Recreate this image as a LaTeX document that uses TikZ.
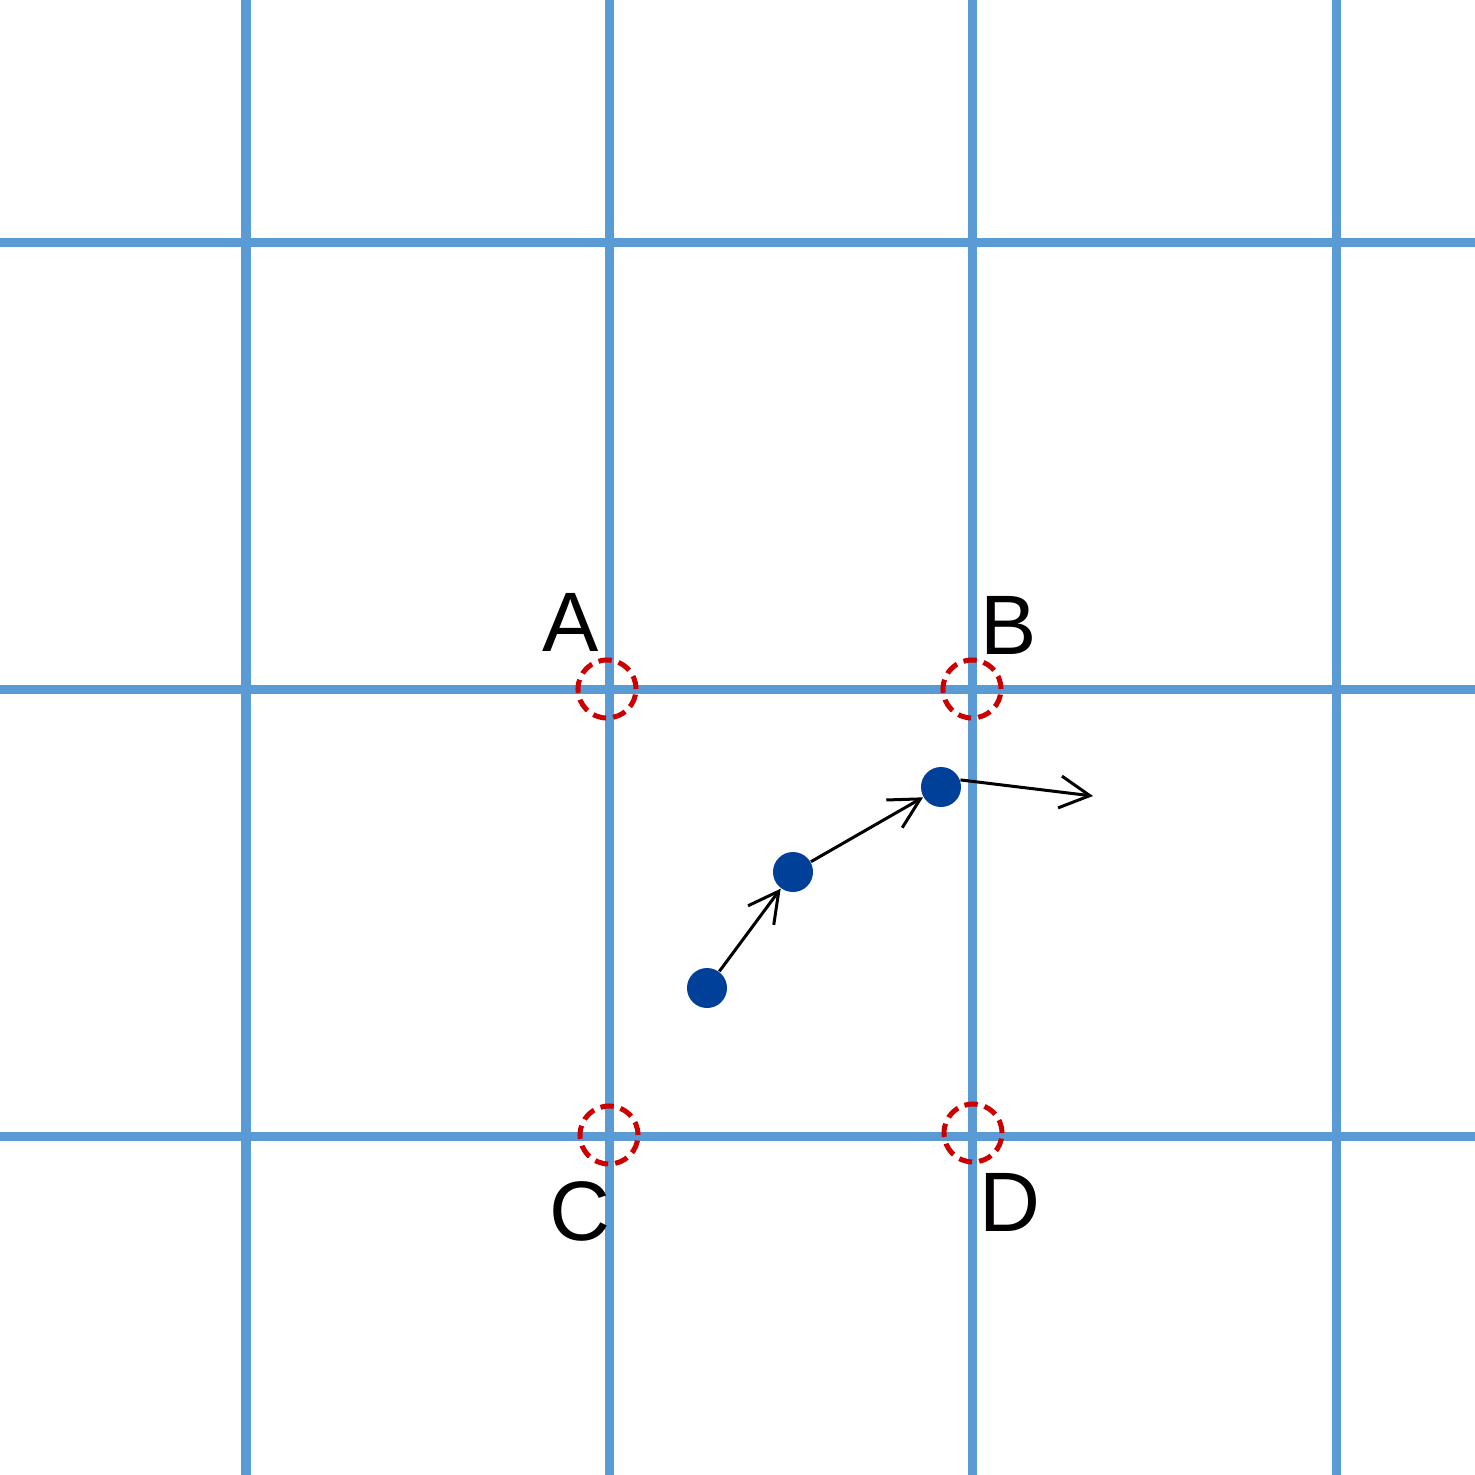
\documentclass[tikz,border=0pt]{standalone}
\usepackage{fontspec}
\setmainfont{Liberation Sans}
\usetikzlibrary{arrows.meta,calc}
\definecolor{GridClr}{rgb}{0.357,0.608,0.835}
\definecolor{DotClr}{rgb}{0,0.25,0.6}
\definecolor{MarkClr}{rgb}{0.8,0,0}

\begin{document}
\begin{tikzpicture}[x=0.01cm,y=-0.01cm,
  GridLine/.style={line width=0.09cm,color=GridClr},
  RingMark/.style={circle,draw=MarkClr,line width=0.05cm,dash pattern=on 3.8pt off 2pt,minimum size=0.58cm,inner sep=0pt},
  Dot/.style={circle,fill=DotClr,minimum size=0.4cm,inner sep=0pt},
  MoveArrow/.style={line width=0.03cm,-{Straight Barb[length=3mm,width=3.2mm]}},
  PtLabel/.style={font=\fontsize{24}{28}\selectfont,inner sep=0pt}]
\useasboundingbox (0,0) rectangle (1475,1475);

\foreach \x in {246,609,972,1336}
  \draw[GridLine] (\x,0) -- (\x,1475);
\foreach \y in {242,689,1136}
  \draw[GridLine] (0,\y) -- (1475,\y);

\node[RingMark] (A) at (607,689) {};
\node[RingMark] (B) at (972,689) {};
\node[RingMark] (C) at (609,1135) {};
\node[RingMark] (D) at (973,1133) {};

\node[PtLabel] (LabA) at (571,622) {A};
\node[PtLabel] (LabB) at (1009,625) {B};
\node[PtLabel] (LabC) at (580,1211) {C};
\node[PtLabel] (LabD) at (1010,1202) {D};

\node[Dot] (P1) at (707,988) {};
\node[Dot] (P2) at (793,872) {};
\node[Dot] (P3) at (941,787) {};
\coordinate (P4) at (1093,796);

\draw[MoveArrow] (P1) -- (P2);
\draw[MoveArrow] (P2) -- (P3);
\draw[MoveArrow] (P3.20) -- (P4);

\end{tikzpicture}
\end{document}
